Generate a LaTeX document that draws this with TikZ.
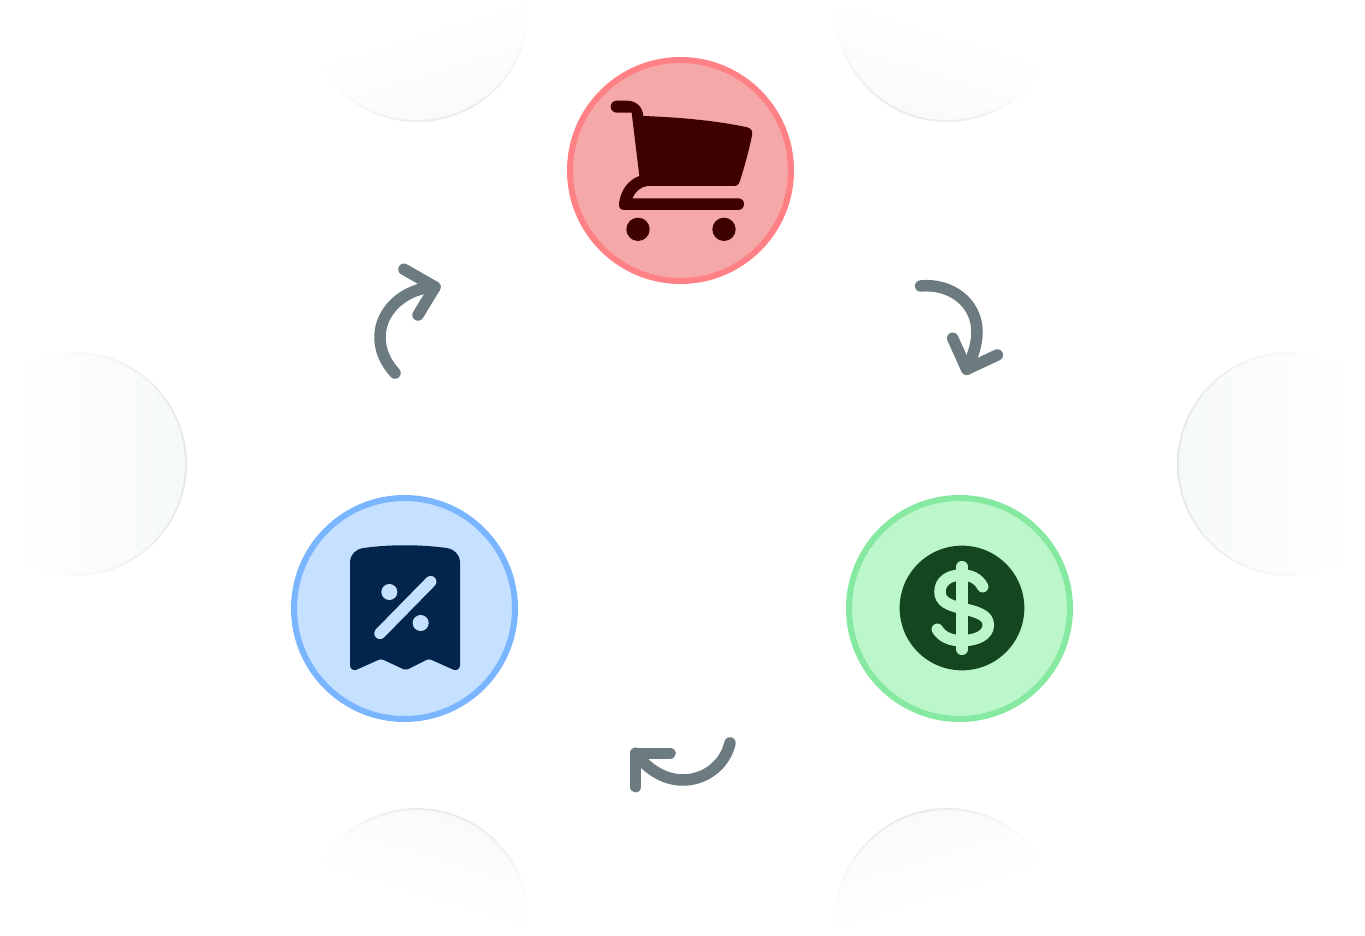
\documentclass[tikz,border=0pt]{standalone}
\definecolor{redfill}{HTML}{F5A8A8}
\definecolor{redline}{HTML}{FF8085}
\definecolor{redicon}{HTML}{3F0000}
\definecolor{bluefill}{HTML}{C6E0FF}
\definecolor{blueline}{HTML}{7AB6FF}
\definecolor{blueicon}{HTML}{03254C}
\definecolor{greenfill}{HTML}{BCF7CC}
\definecolor{greenline}{HTML}{86E9A1}
\definecolor{greenicon}{HTML}{14461F}
\definecolor{arrowgrey}{HTML}{6B7B80}
\definecolor{sidetint}{HTML}{F6F9FA}
\definecolor{endtint}{HTML}{F9FAFC}
\definecolor{sidering}{HTML}{E7E8E8}
\definecolor{endring}{HTML}{EAEBED}
\pgfdeclarehorizontalshading{sideRing}{100bp}{color(0bp)=(white); color(42bp)=(white); color(75bp)=(sidering); color(100bp)=(sidering)}
\pgfdeclarehorizontalshading{sideFill}{100bp}{color(0bp)=(white); color(35bp)=(white); color(75bp)=(sidetint); color(100bp)=(sidetint)}
\pgfdeclarehorizontalshading{endRing}{100bp}{color(0bp)=(white); color(60bp)=(white); color(75bp)=(endring); color(100bp)=(endring)}
\pgfdeclarehorizontalshading{endFill}{100bp}{color(0bp)=(white); color(54bp)=(white); color(75bp)=(endtint); color(100bp)=(endtint)}
\tikzset{
  stage/.style={circle,draw=#1line,fill=#1fill,line width=6pt,minimum size=221pt,inner sep=0pt,outer sep=0pt},
  arrowline/.style={draw=arrowgrey,line width=11.5pt,line cap=round,line join=round},
  zoomed/.style={shift={#1},scale=0.33333},
}
\newcommand{\ghost}[4]{%
  \shade[shading=#1Ring,shading angle=#4] (#2,#3) circle[radius=112pt];
  \shade[shading=#1Fill,shading angle=#4] (#2,#3) circle[radius=110pt];
}
\begin{document}
\begin{tikzpicture}[x=1pt,y=-1pt]
\useasboundingbox (0,0) rectangle (1365,936);
\fill[white] (0,0) rectangle (1365,936);
% faded background circles
\ghost{side}{75}{464}{0}
\ghost{side}{1289}{464}{180}
\ghost{end}{417}{10}{-73}
\ghost{end}{947}{10}{-107}
\ghost{end}{417}{920}{73}
\ghost{end}{947}{920}{107}
% main circles
\node[stage=red] (cart) at (680.5,170.5) {};
\node[stage=blue] (offer) at (404.5,608.5) {};
\node[stage=green] (money) at (959.5,608.5) {};
% cart icon
\begin{scope}[zoomed={(560,50)}]
\fill[redicon] (170,152) -- (200,152) .. controls (228,152) and (248,170) .. (250,198)
  .. controls (360,202) and (470,212) .. (562,232) .. controls (574,235) and (579,245) .. (576,256)
  .. controls (566,305) and (555,345) .. (540,392) .. controls (537,402) and (533,408) .. (522,408) -- (262,408)
  .. controls (242,410) and (226,425) .. (217,445) -- (535,445)
  .. controls (545,445) and (552,452) .. (552,462) .. controls (552,472) and (545,480) .. (535,480)
  -- (192,480) .. controls (182,480) and (175,472) .. (177,460)
  .. controls (182,420) and (205,390) .. (238,378) -- (215,188) -- (170,188)
  .. controls (160,188) and (152,180) .. (152,170) .. controls (152,160) and (160,152) .. (170,152) -- cycle;
\fill[redicon] (234,538) circle[radius=35pt];
\fill[redicon] (492,538) circle[radius=35pt];
\end{scope}
% receipt icon
\begin{scope}[zoomed={(285,490)}]
\fill[blueicon] (195,215) .. controls (197,192) and (212,178) .. (235,174)
  .. controls (315,163) and (405,163) .. (485,174) .. controls (508,178) and (523,192) .. (525,215)
  -- (525,525) .. controls (525,537) and (515,543) .. (505,539) -- (438,509) .. controls (434,507) and (430,507) .. (426,509)
  -- (368,538) .. controls (364,540) and (360,540) .. (356,538) -- (294,509) .. controls (290,507) and (286,507) .. (282,509)
  -- (215,539) .. controls (205,543) and (195,537) .. (195,525) -- cycle;
\draw[bluefill,line width=11.5pt,line cap=round] (285,430) -- (437,275);
\fill[bluefill] (313,306) circle[radius=24pt];
\fill[bluefill] (407,399) circle[radius=24pt];
\end{scope}
% dollar icon
\begin{scope}[zoomed={(840,490)}]
\fill[greenicon] (366,354) circle[radius=187pt];
\draw[greenfill,line width=11.5pt,line cap=round] (366,230) -- (366,478);
\draw[greenfill,line width=11.5pt,line cap=round] (428,290) .. controls (415,265) and (392,255) .. (365,255)
  .. controls (325,255) and (300,275) .. (300,305) .. controls (300,335) and (325,345) .. (365,355)
  .. controls (410,365) and (445,375) .. (445,405) .. controls (445,435) and (410,452) .. (365,452)
  .. controls (330,452) and (305,440) .. (292,418);
\end{scope}
% cycle arrows
\coordinate (tipA) at (435,287);
\coordinate (tipB) at (966.7,369.3);
\coordinate (tipC) at (635.7,753.3);
\draw[arrowline] (395,373) .. controls (385,362) and (380,350) .. (380,337) .. controls (380,310) and (405,288) .. (tipA);
\draw[arrowline] (404,269.3) -- (tipA) -- (418,315);
\draw[arrowline] (920.7,286) .. controls (950,283) and (977,302) .. (977,332) .. controls (977,345) and (972,358) .. (tipB);
\draw[arrowline] (952.7,338.3) -- (tipB) -- (997.3,355);
\draw[arrowline] (730,743) .. controls (725,765) and (705,780) .. (683,780) .. controls (665,780) and (648,770) .. (tipC);
\draw[arrowline] (670,753.3) -- (tipC) -- (635.7,786.7);
\end{tikzpicture}
\end{document}
